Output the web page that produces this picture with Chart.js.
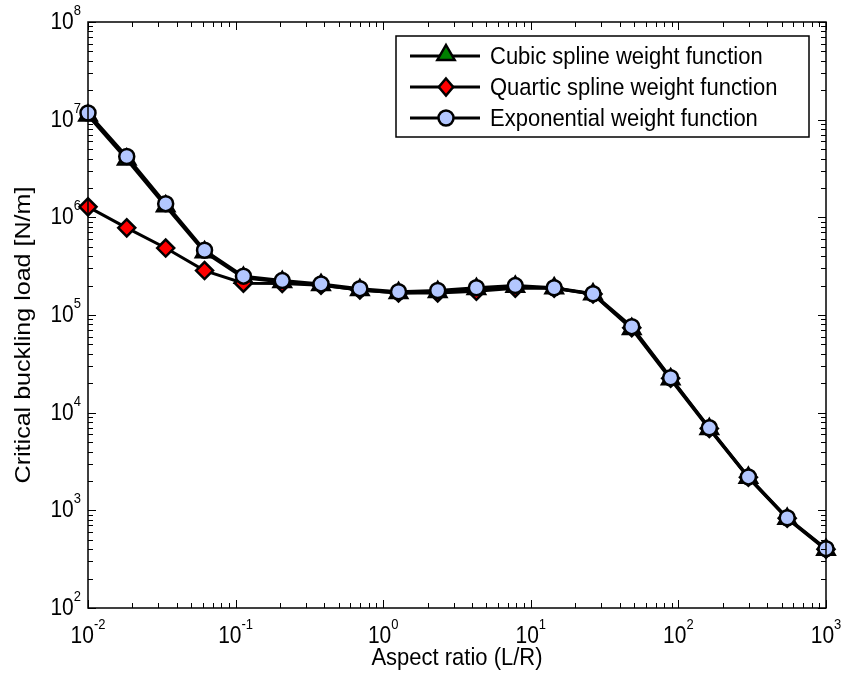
<!DOCTYPE html>
<html lang="en">
<head>
    <meta charset="UTF-8">
    <title>Critical buckling load vs aspect ratio</title>
    <style>
        html, body { margin: 0; padding: 0; background: #fff; }
        #wrap { width: 841px; height: 678px; }
    </style>
</head>
<body>
    <div id="wrap"><canvas id="myChart" width="841" height="678"></canvas></div>

    <script src="https://cdn.jsdelivr.net/npm/chart.js"></script>
    <script>
    // data
    const aspectRatio = [0.01, 0.0183, 0.0336, 0.0616, 0.113, 0.207, 0.379, 0.695, 1.27, 2.34,
                         4.28, 7.85, 14.4, 26.4, 48.3, 88.6, 162, 298, 546, 1000];
    const cubicLoad = [1.1e7, 3.9e6, 1.3e6, 4.4e5, 2.4e5, 2.18e5, 2.03e5, 1.8e5, 1.68e5, 1.72e5,
                       1.85e5, 1.95e5, 1.88e5, 1.63e5, 7.2e4, 2.2e4, 6.8e3, 2.15e3, 820, 395];
    const quarticLoad = [1.28e6, 7.8e5, 4.85e5, 2.85e5, 2.12e5, 2.1e5, 2.02e5, 1.8e5, 1.68e5, 1.68e5,
                         1.75e5, 1.88e5, 1.88e5, 1.64e5, 7.4e4, 2.25e4, 6.9e3, 2.18e3, 830, 400];
    const expLoad = [1.17e7, 4.2e6, 1.38e6, 4.6e5, 2.5e5, 2.25e5, 2.08e5, 1.86e5, 1.73e5, 1.78e5,
                     1.9e5, 2.0e5, 1.9e5, 1.65e5, 7.6e4, 2.28e4, 7.0e3, 2.2e3, 840, 405];

    const seriesNames = ['Cubic spline weight function', 'Quartic spline weight function', 'Exponential weight function'];
    const xTickExps = [-2, -1, 0, 1, 2, 3];
    const yTickExps = [2, 3, 4, 5, 6, 7, 8];
    const xTitle = 'Aspect ratio (L/R)';
    const yTitle = 'Critical buckling load [N/m]';

    const FONT = '"Liberation Sans", Arial, Helvetica, sans-serif';
    const STRETCH = 1.1; // text in the figure is a bit taller than it is wide
    const markers = [
        { style: 'triangle', fill: '#008000', r: 10 },
        { style: 'rectRot', fill: '#ff0000', r: 8.5 },
        { style: 'circle', fill: 'rgb(179,199,255)', r: 7.5 }
    ];

    const toXY = (ys) => ys.map((y, i) => ({ x: aspectRatio[i], y: y }));

    // text drawn slightly stretched along its height
    function tallText(ctx, text, x, y) {
        ctx.save();
        ctx.translate(x, y);
        ctx.scale(1, STRETCH);
        ctx.fillText(text, 0, 0);
        ctx.restore();
    }

    function drawPow(ctx, x, y, exp, align) {
        const base = '10', sup = String(exp);
        ctx.font = '21px ' + FONT;
        const wb = ctx.measureText(base).width;
        ctx.font = '13px ' + FONT;
        const we = ctx.measureText(sup).width;
        let start = align === 'right' ? x - wb - we : x - (wb + we) / 2;
        ctx.textAlign = 'left';
        ctx.textBaseline = 'alphabetic';
        ctx.font = '21px ' + FONT;
        tallText(ctx, base, start, y);
        ctx.font = '13px ' + FONT;
        tallText(ctx, sup, start + wb, y - 14);
    }

    function marker(ctx, style, x, y, r, fill) {
        ctx.beginPath();
        if (style === 'circle') {
            ctx.arc(x, y, r, 0, Math.PI * 2);
        } else if (style === 'rectRot') {
            ctx.moveTo(x, y - r); ctx.lineTo(x + r * 0.85, y); ctx.lineTo(x, y + r); ctx.lineTo(x - r * 0.85, y);
            ctx.closePath();
        } else {
            ctx.moveTo(x, y - r); ctx.lineTo(x + r * 0.866, y + r * 0.5); ctx.lineTo(x - r * 0.866, y + r * 0.5);
            ctx.closePath();
        }
        ctx.fillStyle = fill;
        ctx.fill();
        ctx.lineWidth = 2.5;
        ctx.strokeStyle = '#000';
        ctx.stroke();
    }

    // axes box, inward ticks, tick labels, titles and legend
    const frame = {
        id: 'frame',
        afterDatasetsDraw(chart) {
            const ctx = chart.ctx, a = chart.chartArea;
            const xs = chart.scales.x, ys = chart.scales.y;
            ctx.save();
            ctx.strokeStyle = '#000';
            ctx.lineWidth = 1;
            // ticks
            for (let e = xTickExps[0]; e <= xTickExps[xTickExps.length - 1]; e++) {
                for (let m = 1; m <= 9; m++) {
                    const v = m * Math.pow(10, e);
                    if (v > 1000.0001) break;
                    const px = Math.round(xs.getPixelForValue(v)) + 0.5;
                    const len = m === 1 ? 8 : 5;
                    ctx.beginPath();
                    ctx.moveTo(px, a.bottom); ctx.lineTo(px, a.bottom - len);
                    ctx.moveTo(px, a.top); ctx.lineTo(px, a.top + len);
                    ctx.stroke();
                }
            }
            for (let e = yTickExps[0]; e <= yTickExps[yTickExps.length - 1]; e++) {
                for (let m = 1; m <= 9; m++) {
                    const v = m * Math.pow(10, e);
                    if (v > 1e8 * 1.0001) break;
                    const py = Math.round(ys.getPixelForValue(v)) + 0.5;
                    const len = m === 1 ? 8 : 5;
                    ctx.beginPath();
                    ctx.moveTo(a.left, py); ctx.lineTo(a.left + len, py);
                    ctx.moveTo(a.right, py); ctx.lineTo(a.right - len, py);
                    ctx.stroke();
                }
            }
            // box
            ctx.lineWidth = 1.5;
            ctx.strokeRect(a.left, a.top, a.right - a.left, a.bottom - a.top);

            // tick labels
            ctx.fillStyle = '#000';
            xTickExps.forEach(e => drawPow(ctx, xs.getPixelForValue(Math.pow(10, e)), 643, e, 'center'));
            yTickExps.forEach(e => drawPow(ctx, 81, ys.getPixelForValue(Math.pow(10, e)) + 7, e, 'right'));

            // titles
            ctx.font = '22px ' + FONT;
            ctx.textAlign = 'center';
            ctx.textBaseline = 'middle';
            tallText(ctx, xTitle, (a.left + a.right) / 2, 658);
            ctx.save();
            ctx.translate(24, 335);
            ctx.rotate(-Math.PI / 2);
            ctx.scale(1.14, 1);
            ctx.fillText(yTitle, 0, 0);
            ctx.restore();

            // legend
            const lx = 396, ly = 36, lw = 413, lh = 101;
            ctx.fillStyle = '#fff';
            ctx.fillRect(lx, ly, lw, lh);
            ctx.lineWidth = 1.5;
            ctx.strokeStyle = '#000';
            ctx.strokeRect(lx, ly, lw, lh);
            seriesNames.forEach((name, i) => {
                const y = 56 + i * 31;
                ctx.beginPath();
                ctx.lineWidth = 3;
                ctx.moveTo(410, y); ctx.lineTo(480, y);
                ctx.stroke();
                const mk = markers[i];
                marker(ctx, mk.style, 446, i === 0 ? y - 1 : y, mk.r, mk.fill);
                ctx.fillStyle = '#000';
                ctx.font = '22px ' + FONT;
                ctx.textAlign = 'left';
                ctx.textBaseline = 'middle';
                tallText(ctx, name, 490, y + 1);
            });
            ctx.restore();
        }
    };

    const seriesData = [cubicLoad, quarticLoad, expLoad];
    const datasets = seriesData.map((d, i) => ({
        label: seriesNames[i],
        data: toXY(d),
        borderColor: '#000',
        borderWidth: 3,
        pointStyle: markers[i].style,
        pointRadius: markers[i].r,
        pointHoverRadius: markers[i].r,
        pointBackgroundColor: markers[i].fill,
        pointBorderColor: '#000',
        pointBorderWidth: 2.5,
        fill: false,
        tension: 0,
        clip: false,
        order: 3 - i
    }));

    const ctx = document.getElementById('myChart').getContext('2d');
    new Chart(ctx, {
        type: 'line',
        data: { datasets: datasets },
        options: {
            responsive: false,
            animation: false,
            layout: { padding: { left: 88, right: 15, top: 22, bottom: 70 } },
            plugins: { legend: { display: false }, tooltip: { enabled: false } },
            scales: {
                x: { type: 'logarithmic', min: 0.01, max: 1000, display: false },
                y: { type: 'logarithmic', min: 100, max: 1e8, display: false }
            }
        },
        plugins: [frame]
    });
    </script>
</body>
</html>
